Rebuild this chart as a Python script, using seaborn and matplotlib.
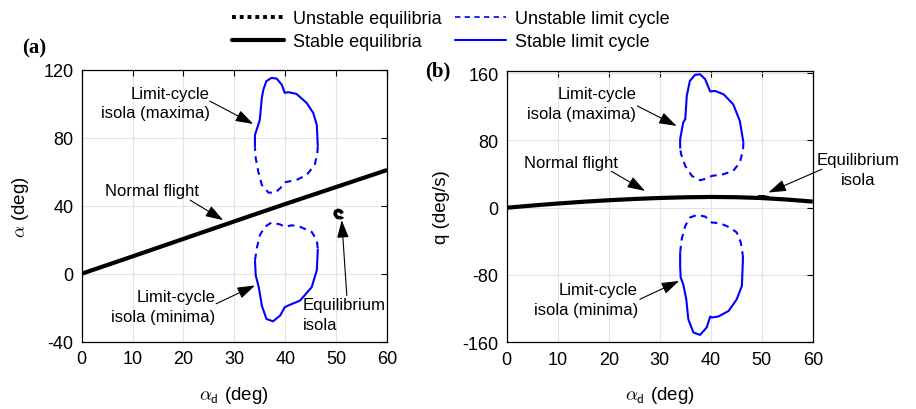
import numpy as np
import pandas as pd
import matplotlib
matplotlib.use("Agg")
import matplotlib.pyplot as plt
from matplotlib.lines import Line2D
import seaborn as sns

# ---------------- data ----------------
# Panel (a): alpha (deg) vs alpha_d (deg)
eq_a_x = [0, 10, 20, 30, 40, 50, 60]
eq_a_y = [0, 10.2, 20.5, 30.8, 41.0, 51.0, 61.0]

a_max_solid_x = [34.05, 34.05, 34.7, 35.0, 35.4, 35.7, 36.3, 37.3, 38.3, 39.3, 39.9, 40.6, 42.2, 44.2, 45.5, 46.2, 46.4]
a_max_solid_y = [74.3, 81.7, 87.6, 90.6, 103.4, 108.3, 113.3, 115.2, 114.8, 111.3, 106.4, 106.8, 105.8, 100.5, 94.6, 87.6, 74.9]
a_max_dash_x = [46.4, 46.3, 45.8, 44.2, 42.2, 39.9, 39.0, 38.0, 36.7, 35.4, 34.7, 34.2, 34.05]
a_max_dash_y = [74.9, 70.9, 64.0, 58.1, 55.1, 53.8, 50.2, 47.7, 47.7, 52.2, 60.1, 68.0, 74.3]

a_min_dash_x = [34.05, 34.4, 35.0, 36.0, 37.3, 39.0, 39.9, 41.3, 42.9, 45.2, 46.2, 46.4]
a_min_dash_y = [7.9, 14.8, 22.6, 27.6, 30.1, 29.0, 27.6, 28.5, 27.6, 24.6, 19.7, 14.8]
a_min_solid_x = [46.4, 46.4, 46.2, 45.2, 42.9, 40.9, 39.9, 39.0, 37.6, 36.3, 35.4, 34.8, 34.2, 34.05]
a_min_solid_y = [14.8, 13.8, 2.0, -7.9, -15.8, -18.3, -19.7, -24.6, -28.0, -26.6, -18.7, -7.9, -1.0, 7.9]

a_eqiso_solid_x = [51.2, 50.9, 50.4, 49.9, 49.8, 50.1, 50.6]
a_eqiso_solid_y = [35.6, 36.8, 37.3, 36.6, 35.0, 33.5, 32.7]
a_eqiso_dot_x = [50.6, 51.2, 51.4, 51.2]
a_eqiso_dot_y = [32.7, 33.3, 34.5, 35.6]

# Panel (b): q (deg/s) vs alpha_d (deg)
eq_b_x = [0, 5, 10, 15, 20, 25, 30, 35, 40, 45, 50, 55, 60]
eq_b_y = [0, 2.6, 5.0, 7.1, 8.9, 10.4, 11.6, 12.4, 12.8, 12.5, 11.5, 9.7, 7.3]

b_max_solid_x = [34.0, 34.0, 34.6, 35.0, 35.3, 35.9, 36.9, 37.9, 38.9, 39.9, 40.8, 42.5, 44.4, 45.7, 46.4]
b_max_solid_y = [70.4, 81.5, 101.4, 105.3, 133.0, 150.8, 158.0, 158.8, 152.9, 138.2, 139.0, 135.0, 123.1, 103.3, 77.6]
b_max_dash_x = [46.4, 46.3, 45.7, 44.4, 42.5, 40.2, 39.2, 37.9, 36.3, 35.0, 34.2, 34.0]
b_max_dash_y = [77.6, 67.6, 53.8, 43.8, 39.9, 37.8, 34.7, 32.7, 37.8, 49.7, 63.6, 70.4]

b_min_dash_x = [34.0, 34.3, 35.0, 35.9, 37.3, 38.9, 40.2, 41.8, 43.8, 45.1, 45.9, 46.3]
b_min_dash_y = [-53.3, -37.5, -21.7, -11.7, -8.6, -10.5, -17.6, -18.4, -23.6, -29.5, -41.4, -57.3]
b_min_solid_x = [46.3, 46.3, 46.1, 45.1, 43.5, 41.5, 40.2, 39.9, 39.2, 37.9, 36.6, 35.6, 35.2, 34.6, 34.1, 34.0, 34.0]
b_min_solid_y = [-57.3, -63.3, -93.0, -108.9, -122.8, -129.4, -130.6, -129.4, -142.5, -151.3, -148.5, -132.6, -108.9, -91.0, -83.0, -69.2, -53.3]

b_eqiso_x = [49.3, 50.3, 51.3, 50.3, 49.3]
b_eqiso_y = [13.0, 13.6, 12.3, 11.4, 13.0]

x_ticks = [0, 10, 20, 30, 40, 50, 60]
a_yticks = [-40, 0, 40, 80, 120]
b_yticks = [-160, -80, 0, 80, 160]

# ---------------- style ----------------
sns.set_theme(style="white")
plt.rcParams["font.family"] = ["Liberation Sans", "DejaVu Sans"]
plt.rcParams["mathtext.fontset"] = "cm"
plt.rcParams["axes.unicode_minus"] = False
plt.rcParams["text.color"] = "black"
plt.rcParams["axes.labelcolor"] = "black"
plt.rcParams["xtick.color"] = "black"
plt.rcParams["ytick.color"] = "black"

BLUE = "#0000ff"
fig = plt.figure(figsize=(9.16, 4.10), dpi=100)
axA = fig.add_axes([0.0892, 0.1641, 0.3333, 0.6634])
axB = fig.add_axes([0.5532, 0.1629, 0.3341, 0.6622])


def curve(ax, x, y, color, lw, ls="-"):
    df = pd.DataFrame({"x": x, "y": y})
    sns.lineplot(data=df, x="x", y="y", sort=False, estimator=None, ax=ax,
                 color=color, lw=lw, linestyle=ls, solid_capstyle="butt",
                 dash_capstyle="butt")


DASH = (0, (3.2, 2.6))

# panel (a)
curve(axA, eq_a_x, eq_a_y, "black", 3.0)
curve(axA, a_max_solid_x, a_max_solid_y, BLUE, 1.5)
curve(axA, a_max_dash_x, a_max_dash_y, BLUE, 1.5, DASH)
curve(axA, a_min_solid_x, a_min_solid_y, BLUE, 1.5)
curve(axA, a_min_dash_x, a_min_dash_y, BLUE, 1.5, DASH)
curve(axA, a_eqiso_solid_x, a_eqiso_solid_y, "black", 2.6)
curve(axA, a_eqiso_dot_x, a_eqiso_dot_y, "black", 2.6, (0, (1, 1)))

# panel (b)
curve(axB, eq_b_x, eq_b_y, "black", 3.0)
curve(axB, b_max_solid_x, b_max_solid_y, BLUE, 1.5)
curve(axB, b_max_dash_x, b_max_dash_y, BLUE, 1.5, DASH)
curve(axB, b_min_solid_x, b_min_solid_y, BLUE, 1.5)
curve(axB, b_min_dash_x, b_min_dash_y, BLUE, 1.5, DASH)
curve(axB, b_eqiso_x, b_eqiso_y, "black", 2.0)

for ax, yt, ylim in [(axA, a_yticks, (-40, 120)), (axB, b_yticks, (-160, 163))]:
    ax.set_xlim(0, 60)
    ax.set_ylim(*ylim)
    ax.set_xticks(x_ticks)
    ax.set_yticks(yt)
    ax.grid(True, color="#e3e3e3", lw=0.8)
    ax.set_axisbelow(True)
    for s in ax.spines.values():
        s.set_color("black")
        s.set_linewidth(0.9)
        s.set_visible(True)
    ax.tick_params(direction="in", top=True, right=True, length=4, width=0.8,
                   labelsize=13, pad=6, colors="black")
    ax.set_xlabel(r"$\alpha_{\mathsf{d}}$ (deg)", fontsize=13.5, color="black")
    ax.xaxis.set_label_coords(0.5, -0.155)

axA.set_ylabel(r"$\alpha$ (deg)", fontsize=13.5, color="black")
axA.yaxis.set_label_coords(-0.165, 0.5)
axB.set_ylabel("q (deg/s)", fontsize=13.5, color="black")
axB.yaxis.set_label_coords(-0.185, 0.5)

AP = dict(arrowstyle="-|>,head_length=0.9,head_width=0.3", color="black",
          lw=0.8, mutation_scale=12, shrinkA=0, shrinkB=0)
FS = 12
LSP = 1.4
TC = "black"

# annotations (a)
axA.text(25.2, 100.4, "Limit-cycle\nisola (maxima)", ha="right", va="center",
         multialignment="right", fontsize=FS, linespacing=LSP, color=TC)
axA.annotate("", xy=(33.7, 88.1), xytext=(25.2, 101.5), arrowprops=AP)
axA.text(23.1, 49.2, "Normal flight", ha="right", va="center", fontsize=FS, color=TC)
axA.annotate("", xy=(27.8, 31.5), xytext=(21.3, 43.3), arrowprops=AP)
axA.text(26.2, -19.4, "Limit-cycle\nisola (minima)", ha="right", va="center",
         multialignment="right", fontsize=FS, linespacing=LSP, color=TC)
axA.annotate("", xy=(34.05, -6.9), xytext=(26.4, -17.7), arrowprops=AP)
axA.text(43.5, -24.2, "Equilibrium\nisola", ha="left", va="center",
         multialignment="left", fontsize=FS, linespacing=LSP, color=TC)
axA.annotate("", xy=(51.1, 31.5), xytext=(52.1, -12.8), arrowprops=AP)

# annotations (b)
axB.text(25.4, 124.3, "Limit-cycle\nisola (maxima)", ha="right", va="center",
         multialignment="right", fontsize=FS, linespacing=LSP, color=TC)
axB.annotate("", xy=(33.3, 97.3), xytext=(25.6, 121.1), arrowprops=AP)
axB.text(21.8, 54.1, "Normal flight", ha="right", va="center", fontsize=FS, color=TC)
axB.annotate("", xy=(27.1, 20.0), xytext=(20.5, 43.4), arrowprops=AP)
axB.text(68.9, 45.2, "Equilibrium\nisola", ha="center", va="center",
         multialignment="center", fontsize=FS, linespacing=LSP, clip_on=False,
         color=TC)
axB.annotate("", xy=(51.3, 18.1), xytext=(61.8, 45.8), arrowprops=AP,
             annotation_clip=False)
axB.text(25.7, -108.9, "Limit-cycle\nisola (minima)", ha="right", va="center",
         multialignment="right", fontsize=FS, linespacing=LSP, color=TC)
axB.annotate("", xy=(33.8, -87.1), xytext=(26.1, -108.9), arrowprops=AP)

# panel letters
fig.text(34 / 916, 1 - 48.3 / 410, "(a)", ha="center", va="center",
         fontsize=15, fontweight="bold", family="Liberation Serif", color=TC)
fig.text(437.5 / 916, 1 - 71.7 / 410, "(b)", ha="center", va="center",
         fontsize=15, fontweight="bold", family="Liberation Serif", color=TC)

# legend
handles = [
    Line2D([], [], color="black", lw=2.8, linestyle=(0, (1, 1))),
    Line2D([], [], color="black", lw=3.0),
    Line2D([], [], color=BLUE, lw=1.2, linestyle=(0, (3.2, 2.6))),
    Line2D([], [], color=BLUE, lw=1.5),
]
labels = ["Unstable equilibria", "Stable equilibria",
          "Unstable limit cycle", "Stable limit cycle"]
leg = fig.legend(handles, labels, ncol=2, frameon=False, loc="center",
                 bbox_to_anchor=(451 / 916, 1 - 31 / 410), fontsize=13,
                 handlelength=2.85, handletextpad=0.5, columnspacing=0.75,
                 labelspacing=0.33)
for t in leg.get_texts():
    t.set_color("black")

fig.savefig("out.png", dpi=100)
